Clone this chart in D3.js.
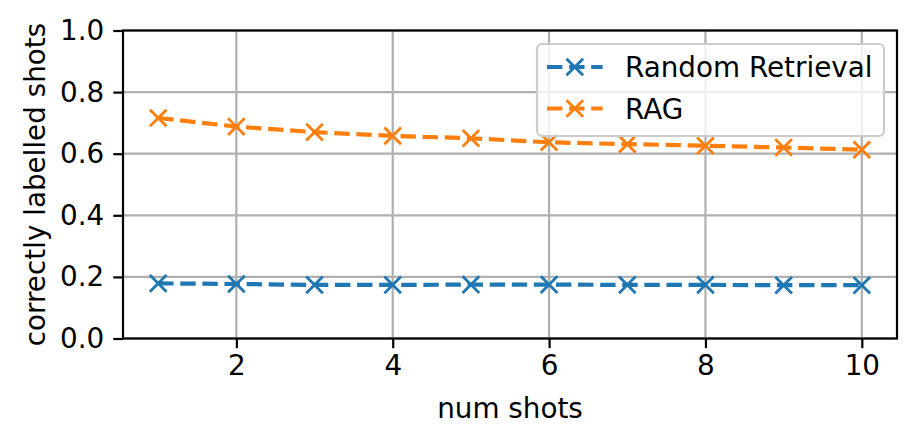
<!DOCTYPE html>
<html><head><meta charset="utf-8">
<script src="https://cdn.jsdelivr.net/npm/d3@7"></script>
<style>body{margin:0;background:#fff}svg{display:block}text{font-family:"DejaVu Sans",sans-serif}</style>
</head><body>
<svg id="c" width="917" height="445"></svg>
<script>
const shots = [1,2,3,4,5,6,7,8,9,10];
const randomRetrieval = [0.179,0.177,0.174,0.174,0.175,0.175,0.174,0.174,0.173,0.173];
const rag = [0.716,0.688,0.670,0.658,0.650,0.637,0.631,0.626,0.620,0.613];
const seriesNames = ["Random Retrieval","RAG"];
const colors = ["#1f77b4","#ff7f0e"];
const xTicks = [2,4,6,8,10];
const yTicks = [0,0.2,0.4,0.6,0.8,1.0];

const svg = d3.select("#c");
const L=123,R=897,T=30.5,B=338.5;
const x = d3.scaleLinear().domain([0.55,10.45]).range([L,R]);
const y = d3.scaleLinear().domain([0,1]).range([B,T]);
const fs = 27.8;
const dash = "15.4,6.7";

// grid
const g = svg.append("g");
g.selectAll("line.gx").data(xTicks).join("line")
 .attr("x1",d=>x(d)).attr("x2",d=>x(d)).attr("y1",T).attr("y2",B)
 .attr("stroke","#b0b0b0").attr("stroke-width",2.2);
g.selectAll("line.gy").data(yTicks).join("line")
 .attr("y1",d=>y(d)).attr("y2",d=>y(d)).attr("x1",L).attr("x2",R)
 .attr("stroke","#b0b0b0").attr("stroke-width",2.2);

// axes
const xa = svg.append("g").attr("transform",`translate(0,${B})`)
 .call(d3.axisBottom(x).tickValues(xTicks).tickSize(9.7).tickPadding(7).tickFormat(d3.format("d")));
const ya = svg.append("g").attr("transform",`translate(${L},0)`)
 .call(d3.axisLeft(y).tickValues(yTicks).tickSize(9.7).tickPadding(9).tickFormat(d3.format(".1f")));
[xa,ya].forEach(a=>{
  a.select(".domain").remove();
  a.selectAll(".tick line").attr("stroke","#000").attr("stroke-width",2.2);
  a.selectAll(".tick text").attr("font-size",fs).attr("fill","#000").attr("font-family","DejaVu Sans");
});

// series
const data = [randomRetrieval, rag];
const line = d3.line().x((d,i)=>x(shots[i])).y(d=>y(d));
const ms = 8.3;
function cross(sel, cx, cy, col){
  sel.append("path").attr("d",`M${cx-ms},${cy-ms}L${cx+ms},${cy+ms}M${cx-ms},${cy+ms}L${cx+ms},${cy-ms}`)
   .attr("stroke",col).attr("stroke-width",2.8).attr("fill","none");
}
data.forEach((vals,k)=>{
  svg.append("path").datum(vals).attr("d",line).attr("fill","none")
   .attr("stroke",colors[k]).attr("stroke-width",4.2).attr("stroke-dasharray",dash);
  const mg = svg.append("g");
  vals.forEach((v,i)=>cross(mg, x(shots[i]), y(v), colors[k]));
});

// frame
svg.append("rect").attr("x",L).attr("y",T).attr("width",R-L).attr("height",B-T)
 .attr("fill","none").attr("stroke","#000").attr("stroke-width",2.2);

// labels
svg.append("text").attr("x",(L+R)/2).attr("y",418).attr("text-anchor","middle").attr("font-size",fs).text("num shots");
svg.append("text").attr("transform",`translate(45,${(T+B)/2}) rotate(-90)`).attr("text-anchor","middle").attr("font-size",fs).text("correctly labelled shots");

// legend
const lg = svg.append("g");
lg.append("rect").attr("x",537).attr("y",44).attr("width",347).attr("height",92).attr("rx",5)
 .attr("fill","rgba(255,255,255,0.8)").attr("stroke","#cccccc").attr("stroke-width",2.2);
seriesNames.forEach((n,k)=>{
  const yy = 67 + k*41.5;
  lg.append("line").attr("x1",547).attr("x2",602.6).attr("y1",yy).attr("y2",yy)
   .attr("stroke",colors[k]).attr("stroke-width",4.2).attr("stroke-dasharray",dash);
  cross(lg,574.8,yy,colors[k]);
  lg.append("text").attr("x",625).attr("y",yy+10).attr("font-size",fs).text(n);
});
</script>
</body></html>
